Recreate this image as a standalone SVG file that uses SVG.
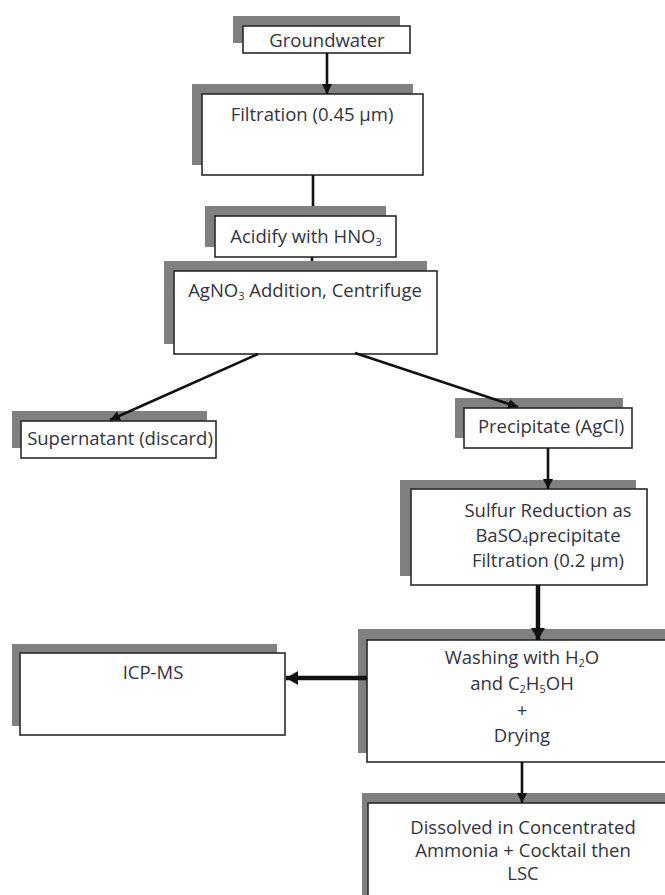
<svg xmlns="http://www.w3.org/2000/svg" width="665" height="895" viewBox="0 0 665 895">
<style>
.sh{fill:#808080;}
.bx{fill:#fff;stroke:#2a2a2a;stroke-width:1.6;}
.t{font-family:"Open Sans","Liberation Sans",sans-serif;font-size:18.5px;fill:#33333f;text-anchor:middle;}
.c{stroke:#111;stroke-width:2.6;fill:none;}
.ck{stroke:#111;stroke-width:4.5;fill:none;}
</style>
<defs>
<marker id="ah" markerUnits="userSpaceOnUse" markerWidth="12" markerHeight="12" refX="10" refY="5" orient="auto"><path d="M0,0 L10,5 L0,10 z" fill="#111"/></marker>
<marker id="ahk" markerUnits="userSpaceOnUse" markerWidth="16" markerHeight="16" refX="12" refY="7" orient="auto"><path d="M0,0 L12,7 L0,14 z" fill="#111"/></marker>
</defs>
<rect width="665" height="895" fill="#fff"/>
<g id="groundwater">
<rect class="sh" x="233" y="16" width="167" height="27"/>
<rect class="bx" x="243" y="26" width="167" height="27"/>
<text class="t" x="327" y="47">Groundwater</text>
</g>
<g id="filtration">
<rect class="sh" x="192" y="84" width="221" height="81"/>
<rect class="bx" x="202" y="94" width="221" height="81"/>
<text class="t" x="312" y="121">Filtration (0.45 µm)</text>
</g>
<g id="acidify">
<rect class="sh" x="205" y="206" width="181" height="41"/>
<rect class="bx" x="215" y="216" width="181" height="41"/>
<text class="t" x="306" y="243">Acidify with HNO<tspan font-size="11" dy="3">3</tspan></text>
</g>
<g id="agno3">
<rect class="sh" x="164" y="261" width="263" height="83"/>
<rect class="bx" x="174" y="271" width="263" height="83"/>
<text class="t" x="305" y="297">AgNO<tspan font-size="11" dy="3">3</tspan><tspan dy="-3"> Addition, Centrifuge</tspan></text>
</g>
<g id="supernatant">
<rect class="sh" x="12" y="411" width="195" height="37"/>
<rect class="bx" x="21" y="421" width="195" height="37"/>
<text class="t" x="120" y="445">Supernatant  (discard)</text>
</g>
<g id="precipitate">
<rect class="sh" x="455" y="398" width="168" height="40"/>
<rect class="bx" x="464" y="408" width="168" height="40"/>
<text class="t" x="551" y="433">Precipitate (AgCl)</text>
</g>
<g id="sulfur">
<rect class="sh" x="400" y="480" width="236" height="96"/>
<rect class="bx" x="411" y="489" width="236" height="96"/>
<text class="t" x="548" y="517">Sulfur Reduction as</text>
<text class="t" x="548" y="542">BaSO<tspan font-size="10" dy="2">4</tspan><tspan dy="-2">precipitate</tspan></text>
<text class="t" x="548" y="567">Filtration (0.2 µm)</text>
</g>
<g id="washing">
<rect class="sh" x="358" y="629" width="320" height="124"/>
<rect class="bx" x="367" y="640" width="320" height="122"/>
<text class="t" x="522" y="664">Washing with H<tspan font-size="11" dy="3">2</tspan><tspan dy="-3">O</tspan></text>
<text class="t" x="522" y="690">and C<tspan font-size="11" dy="3">2</tspan><tspan dy="-3">H</tspan><tspan font-size="11" dy="3">5</tspan><tspan dy="-3">OH</tspan></text>
<text class="t" x="522" y="717">+</text>
<text class="t" x="522" y="742">Drying</text>
</g>
<g id="icpms">
<rect class="sh" x="12" y="644" width="265" height="82"/>
<rect class="bx" x="20" y="653" width="265" height="82"/>
<text class="t" x="153" y="679">ICP-MS</text>
</g>
<g id="dissolved">
<rect class="sh" x="362" y="793" width="320" height="120"/>
<rect class="bx" x="368" y="803" width="320" height="120"/>
<text class="t" x="523" y="834">Dissolved in Concentrated</text>
<text class="t" x="523" y="857">Ammonia + Cocktail then</text>
<text class="t" x="523" y="880">LSC</text>
</g>
<g id="connectors">
<line class="c" x1="327" y1="53" x2="327" y2="94" marker-end="url(#ah)"/>
<line class="c" x1="313" y1="175" x2="313" y2="206"/>
<line class="c" x1="312" y1="257" x2="312" y2="261"/>
<line class="c" x1="258" y1="354" x2="110" y2="420" marker-end="url(#ah)"/>
<line class="c" x1="355" y1="353" x2="518" y2="407" marker-end="url(#ah)"/>
<line class="c" x1="548" y1="448" x2="548" y2="489" marker-end="url(#ah)"/>
<line class="ck" x1="538" y1="585" x2="538" y2="640" marker-end="url(#ahk)"/>
<line class="ck" x1="367" y1="678" x2="286" y2="678" marker-end="url(#ahk)"/>
<line class="c" x1="522" y1="762" x2="522" y2="803" marker-end="url(#ah)"/>
</g>
</svg>
